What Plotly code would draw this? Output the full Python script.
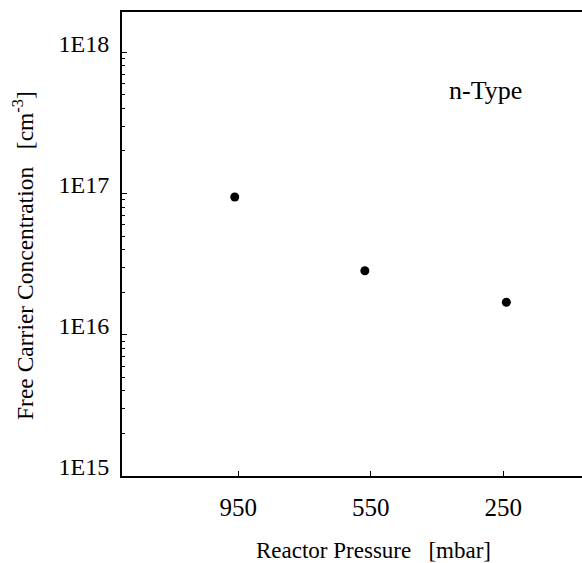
import plotly.graph_objects as go

# Data
pressure_labels = ["950", "550", "250"]          # reactor pressure [mbar]
category_pos = [1, 2, 3]                          # tick positions for the labels
point_pos = [0.973, 1.955, 3.023]                 # plotted x positions of the points
concentration = [9.45e16, 2.84e16, 1.70e16]       # free carrier concentration [cm^-3]
y_tickvals = [1e15, 1e16, 1e17, 1e18]
y_ticktext = ["1E15", "1E16", "1E17", "1E18"]
y_minor_vals = [m * 10 ** e for e in (15, 16, 17) for m in range(2, 10)]

FONT = "Liberation Serif, Times New Roman, serif"

fig = go.Figure()
fig.add_trace(go.Scatter(
    x=point_pos, y=concentration, mode="markers",
    marker=dict(color="black", size=9, symbol="circle"),
    showlegend=False, hoverinfo="skip",
))

fig.update_layout(
    width=582, height=563,
    margin=dict(l=122, r=0, t=12, b=87),
    paper_bgcolor="white", plot_bgcolor="white",
    font=dict(family=FONT, color="black", size=23),
    xaxis=dict(
        range=[0.122, 3.594],
        tickmode="array", tickvals=category_pos, ticktext=pressure_labels,
        ticks="inside", ticklen=5, tickwidth=1, tickcolor="black",
        showline=True, linewidth=2, linecolor="black", mirror=True,
        showgrid=False, zeroline=False,
        tickfont=dict(size=25), ticklabelstandoff=8,
    ),
    yaxis=dict(
        type="log", range=[15, 18.285],
        tickmode="array", tickvals=y_tickvals, ticktext=y_ticktext,
        ticks="inside", ticklen=5, tickwidth=1, tickcolor="black",
        minor=dict(tickmode="array", tickvals=y_minor_vals,
                   ticks="inside", ticklen=3, tickwidth=1, tickcolor="black",
                   showgrid=False),
        showline=True, linewidth=2, linecolor="black", mirror=False,
        showgrid=False, zeroline=False,
        tickfont=dict(size=24), ticklabelstandoff=6, ticklabelshift=-9,
    ),
    annotations=[
        dict(text="n-Type", xref="paper", yref="paper",
             x=(485 - 122) / 460, y=(476 - 90) / 464,
             xanchor="center", yanchor="middle", showarrow=False,
             font=dict(size=26)),
        dict(text="Reactor Pressure   [mbar]", xref="paper", yref="paper",
             x=(373 - 122) / 460, y=0, yshift=-74,
             xanchor="center", yanchor="middle", showarrow=False,
             font=dict(size=23)),
        dict(text="Free Carrier Concentration   [cm<sup>-3</sup>]",
             xref="paper", yref="paper",
             x=0, xshift=-99, y=(476 - 256) / 464,
             xanchor="center", yanchor="middle", showarrow=False,
             textangle=-90, font=dict(size=23.5)),
    ],
)

fig.write_html("out.html")
